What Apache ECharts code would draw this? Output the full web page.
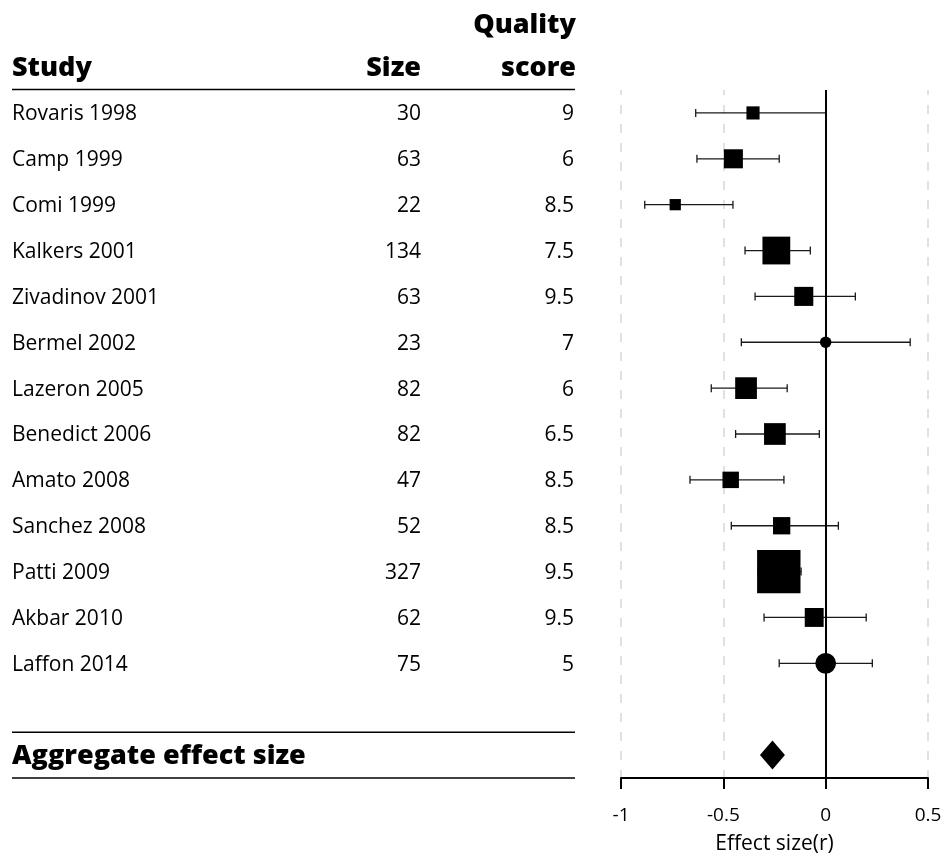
<!DOCTYPE html>
<html><head><meta charset="utf-8">
<script src="https://cdn.jsdelivr.net/npm/echarts@6/dist/echarts.min.js"></script>
<style>html,body{margin:0;padding:0;background:#fff}#c{width:941px;height:857px}</style>
</head><body><div id="c"></div>
<script>
// ---- data ----
const studies = ['Rovaris 1998','Camp 1999','Comi 1999','Kalkers 2001','Zivadinov 2001','Bermel 2002','Lazeron 2005','Benedict 2006','Amato 2008','Sanchez 2008','Patti 2009','Akbar 2010','Laffon 2014'];
const sizes = [30,63,22,134,63,23,82,82,47,52,327,62,75];
const quality = ['9','6','8.5','7.5','9.5','7','6','6.5','8.5','8.5','9.5','9.5','5'];
const effects = [-0.355,-0.451,-0.735,-0.241,-0.107,0,-0.389,-0.248,-0.464,-0.215,-0.229,-0.056,0];
const ciLow  = [-0.635,-0.629,-0.884,-0.394,-0.345,-0.412,-0.559,-0.44,-0.663,-0.461,-0.33,-0.301,-0.227];
const ciHigh = [0.0,-0.227,-0.453,-0.075,0.145,0.413,-0.188,-0.031,-0.204,0.062,-0.12,0.198,0.228];
const aggregateLabel = 'Aggregate effect size';
const aggregateEffect = -0.26;
const xTicks = [-1, -0.5, 0, 0.5];
const headers = {study:'Study', size:'Size', quality:['Quality','score']};
const axisTitle = 'Effect size(r)';

// ---- layout ----
const FONT = '"Open Sans", Lato, sans-serif';
const BOLD = '800 27px ' + FONT;
const W = 941, H = 857;
const G = {left:621, right:13, top:90, bottom:79};
const categories = studies.concat(['', aggregateLabel]);
const nRows = categories.length;
const rowH = (H - G.top - G.bottom) / nRows;
const ruleL = 12, ruleR = 575;
const colStudyX = 12, colSizeR = 421, colQualR = 574;
const pad = [3, 0, 0, 0];

const chart = echarts.init(document.getElementById('c'), null, {renderer:'canvas'});

const option = {
  animation: false,
  backgroundColor: '#fff',
  textStyle: {fontFamily: FONT},
  grid: {left:G.left, right:G.right, top:G.top, bottom:G.bottom, containLabel:false, outerBoundsMode:'none'},
  xAxis: {
    type:'value', min:xTicks[0], max:xTicks[xTicks.length-1], interval:0.5,
    name: axisTitle, nameLocation:'middle', nameGap:56,
    nameTextStyle:{fontSize:21, color:'#000', fontFamily:FONT},
    axisLine:{show:true, onZero:false, lineStyle:{color:'#000', width:2}},
    axisTick:{show:true, length:11, lineStyle:{color:'#000', width:2}},
    axisLabel:{fontSize:19, color:'#000', margin:28, fontFamily:FONT},
    splitLine:{show:true, lineStyle:{color:'#d8d8d8', width:1.5, type:[9,10], dashOffset:4}}
  },
  yAxis: {
    type:'category', data:categories, inverse:true,
    axisLine:{show:false}, axisTick:{show:false}, splitLine:{show:false},
    axisLabel:{
      interval:0, margin:G.left - colQualR, color:'#000', fontFamily:FONT,
      formatter:(v, i) => {
        if (i < studies.length) return '{a|' + v + '}{b|' + sizes[i] + '}{c|' + quality[i] + '}';
        if (v) return '{agg|' + v + '}';
        return '';
      },
      rich:{
        a:{width: colSizeR - colStudyX - 109, align:'left', fontSize:21, fontFamily:FONT, color:'#000', padding:pad},
        b:{width:109, align:'right', fontSize:21, fontFamily:FONT, color:'#000', padding:pad},
        c:{width: colQualR - colSizeR, align:'right', fontSize:21, fontFamily:FONT, color:'#000', padding:pad},
        agg:{width: colQualR - colStudyX, align:'left', fontSize:27, fontWeight:800, fontFamily:FONT, color:'#000', padding:pad}
      }
    }
  },
  graphic: [
    {type:'text', x:colStudyX, y:68, style:{text:headers.study, fill:'#000', font:BOLD, align:'left', verticalAlign:'middle'}},
    {type:'text', x:colSizeR, y:68, style:{text:headers.size, fill:'#000', font:BOLD, align:'right', verticalAlign:'middle'}},
    {type:'text', x:colQualR + 2, y:25, style:{text:headers.quality[0], fill:'#000', font:BOLD, align:'right', verticalAlign:'middle'}},
    {type:'text', x:colQualR + 2, y:68, style:{text:headers.quality[1], fill:'#000', font:BOLD, align:'right', verticalAlign:'middle'}},
    {type:'line', shape:{x1:ruleL, y1:G.top - 0.5, x2:ruleR, y2:G.top - 0.5}, style:{stroke:'#000', lineWidth:1.5}},
    {type:'line', shape:{x1:ruleL, y1:G.top + (nRows-1)*rowH, x2:ruleR, y2:G.top + (nRows-1)*rowH}, style:{stroke:'#000', lineWidth:1.5}},
    {type:'line', shape:{x1:ruleL, y1:G.top + nRows*rowH, x2:ruleR, y2:G.top + nRows*rowH}, style:{stroke:'#000', lineWidth:1.5}}
  ],
  series: [
    {
      type:'custom', z:2,
      data: studies.map((s,i) => [ciLow[i], ciHigh[i], i]),
      encode:{x:[0,1], y:2},
      renderItem:(params, api) => {
        const lo = api.coord([api.value(0), api.value(2)]);
        const hi = api.coord([api.value(1), api.value(2)]);
        const c = 4;
        const st = {stroke:'#1a1a1a', lineWidth:1.3};
        return {type:'group', children:[
          {type:'line', shape:{x1:lo[0], y1:lo[1], x2:hi[0], y2:hi[1]}, style:st},
          {type:'line', shape:{x1:lo[0], y1:lo[1]-c, x2:lo[0], y2:lo[1]+c}, style:st},
          {type:'line', shape:{x1:hi[0], y1:hi[1]-c, x2:hi[0], y2:hi[1]+c}, style:st}
        ]};
      }
    },
    {
      type:'scatter', z:3,
      itemStyle:{color:'#000', opacity:1},
      data: effects.map((e,i) => ({
        value:[e, i],
        symbol: e === 0 ? 'circle' : 'rect',
        symbolSize: 2.4 * Math.sqrt(sizes[i])
      })),
      markLine:{
        silent:true, symbol:['none','none'], label:{show:false},
        lineStyle:{color:'#000', width:2, type:'solid', opacity:1},
        data:[{xAxis:0}]
      }
    },
    {
      type:'scatter', z:3,
      symbol:'diamond', symbolSize:[25,29],
      itemStyle:{color:'#000', opacity:1},
      data:[[aggregateEffect, nRows-1]]
    }
  ]
};
chart.setOption(option);
</script>
</body></html>
